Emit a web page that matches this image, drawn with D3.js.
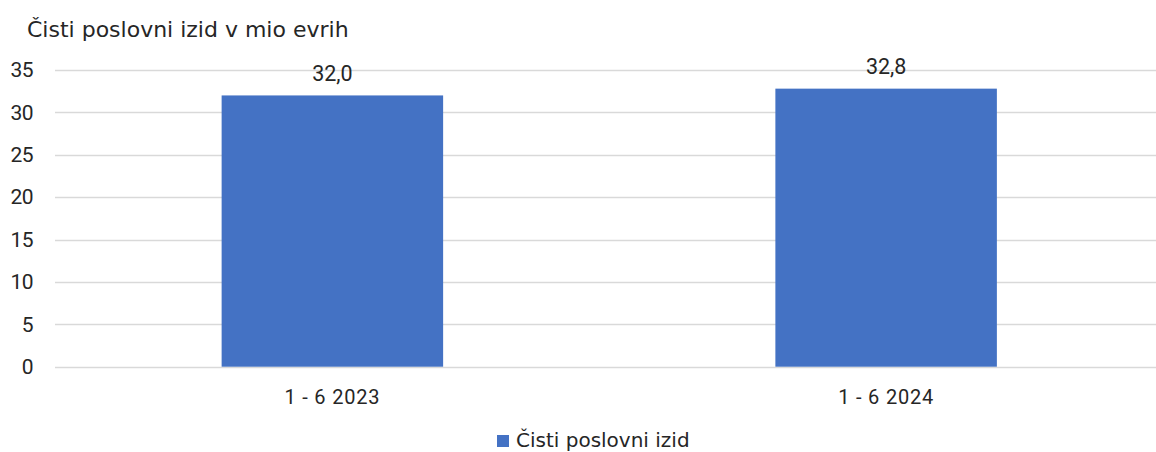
<!DOCTYPE html>
<html>
<head>
<meta charset="utf-8">
<script src="https://cdn.jsdelivr.net/npm/d3@7"></script>
<style>
  html, body { margin: 0; padding: 0; background: #fff; }
  svg { display: block; }
  text { font-family: Roboto, "Liberation Sans", sans-serif; fill: #262626; }
</style>
</head>
<body>
<svg id="chart" width="1156" height="452"></svg>
<script>
const categories = ["1 - 6 2023", "1 - 6 2024"];
const values = [32.0, 32.8];
const yTicks = [0, 5, 10, 15, 20, 25, 30, 35];
const seriesName = "Čisti poslovni izid";
const title = "Čisti poslovni izid v mio evrih";

const svg = d3.select("#chart");

const x = d3.scaleBand().domain(categories).range([55.5, 1163]).paddingInner(0.6).paddingOuter(0.3);
const y = d3.scaleLinear().domain([0, 35]).range([366.7, 70]);

const numFont = "Roboto, sans-serif";
const txtFont = "'DejaVu Sans', sans-serif";

// gridlines
svg.append("g").selectAll("line").data(yTicks).join("line")
  .attr("x1", 55).attr("x2", 1163)
  .attr("y1", d => Math.round(y(d)) + 0.5).attr("y2", d => Math.round(y(d)) + 0.5)
  .attr("stroke", "#d9d9d9").attr("stroke-width", 1.3);

// y axis labels
const yAxis = d3.axisLeft(y).tickValues(yTicks).tickSize(0).tickPadding(0);
const gy = svg.append("g").attr("transform", "translate(33,0)").call(yAxis);
gy.select(".domain").remove();
gy.selectAll("text").attr("font-size", 21).attr("fill", "#262626")
  .attr("letter-spacing", -0.6)
  .style("font-family", numFont);

// bars
svg.append("g").selectAll("rect").data(values).join("rect")
  .attr("x", (d, i) => x(categories[i]))
  .attr("width", x.bandwidth())
  .attr("y", d => y(d))
  .attr("height", d => y(0) - y(d))
  .attr("fill", "#4472C4");

// value labels
svg.append("g").selectAll("text").data(values).join("text")
  .attr("x", (d, i) => x(categories[i]) + x.bandwidth() / 2)
  .attr("y", d => y(d) - 14.5)
  .attr("text-anchor", "middle")
  .attr("font-size", 21.5)
  .style("font-family", numFont)
  .text(d => d.toFixed(1).replace(".", ","));

// x axis labels
const xAxis = d3.axisBottom(x).tickSize(0).tickPadding(0);
const gx = svg.append("g").attr("transform", "translate(0,389)").call(xAxis);
gx.select(".domain").remove();
gx.selectAll("text").attr("font-size", 20).attr("fill", "#262626")
  .attr("dy", "0.75em")
  .attr("letter-spacing", 0.8)
  .style("font-family", numFont);

// title
svg.append("text").attr("x", 27).attr("y", 36.5).attr("font-size", 22)
  .style("font-family", txtFont).text(title);

// legend
const lg = svg.append("g").attr("transform", "translate(497,435)");
lg.append("rect").attr("x", 0).attr("y", 0).attr("width", 12).attr("height", 12).attr("fill", "#4472C4");
lg.append("text").attr("x", 19).attr("y", 11.5).attr("font-size", 20)
  .style("font-family", txtFont).text(seriesName);
</script>
</body>
</html>
